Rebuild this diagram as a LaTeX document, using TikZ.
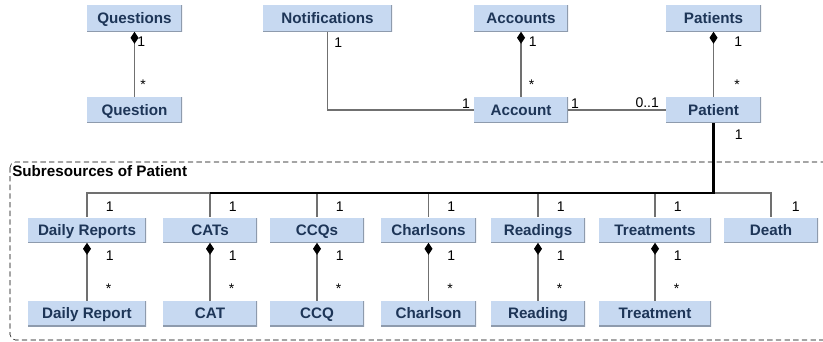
\documentclass[tikz,border=0pt]{standalone}
\usepackage{fontspec}
\setmainfont{Liberation Sans}
\usetikzlibrary{arrows.meta}
\usetikzlibrary{positioning}

\definecolor{boxfill}{HTML}{C7D9F1}
\definecolor{boxedge}{HTML}{8E9BAD}
\definecolor{boxtext}{HTML}{1D3557}
\definecolor{linkgray}{HTML}{707070}
\newcommand{\px}{0.75pt}

\tikzset{
  res/.style={fill=boxfill, text=boxtext, font=\bfseries\fontsize{11.4}{13}\selectfont,
    minimum height=26*\px, inner sep=0pt, text height=8.2pt, text depth=0pt,
    path picture={\draw[boxedge, line width=1.4pt]
      (path picture bounding box.south west) -- (path picture bounding box.south east)
      -- (path picture bounding box.north east);}},
  link/.style={draw=linkgray, line width=0.8pt},
  comp/.style={link, {Diamond[length=9pt,width=6pt,black]}-},
  busline/.style={draw=black, line width=1.6pt},
  mult/.style={font=\fontsize{10.5}{12}\selectfont, inner sep=1pt, anchor=west},
}

\begin{document}
\begin{tikzpicture}[x=\px, y=-\px]
    \useasboundingbox (0,0) rectangle (823,342);
    \clip (0,0) rectangle (823,342);

    % subresource frame
    \draw[dash pattern=on 4pt off 2.5pt, rounded corners=4pt] (10,162) rectangle (840,340);
    \node[anchor=north west, inner sep=0pt, font=\bfseries\fontsize{11.4}{13}\selectfont] (sublabel) at (12,165) {Subresources of Patient};

    % top level
    \node[res, minimum width=95*\px] (questions) at (134.5,18.5) {Questions};
    \node[res, minimum width=95*\px] (question) at (134.5,110) {Question};
    \node[res, minimum width=129*\px] (notifications) at (327.5,18.5) {Notifications};
    \node[res, minimum width=94*\px] (accounts) at (521,18.5) {Accounts};
    \node[res, minimum width=94*\px] (account) at (521,110) {Account};
    \node[res, minimum width=95*\px] (patients) at (713.5,18.5) {Patients};
    \node[res, minimum width=95*\px] (patient) at (713.5,110) {Patient};

    \draw[comp] (questions.south) -- node[mult, pos=0.15, xshift=1*\px] {1} node[mult, pos=0.82, xshift=4*\px] {*} (question.north);
    \draw[comp] (accounts.south) -- node[mult, pos=0.15, xshift=6*\px] {1} node[mult, pos=0.82, xshift=6*\px] {*} (account.north);
    \draw[comp] (patients.south) -- node[mult, pos=0.15, xshift=19*\px] {1} node[mult, pos=0.82, xshift=19*\px] {*} (patient.north);
    \draw[link] (notifications.south) |- node[mult, pos=0.07, xshift=5*\px] {1} node[mult, pos=1, anchor=south east, xshift=-2*\px] {1} (account.west);
    \draw[link] (account.east) -- node[mult, pos=0, anchor=south west, xshift=1*\px] {1} node[mult, pos=1, anchor=south east, xshift=-5*\px] {0..1} (patient.west);

    % subresources
    \coordinate (bus) at (713.5,193);
    \foreach \name/\sub/\txt/\subtxt/\cx/\w in {dailyreports/dailyreport/Daily Reports/Daily Report/87/118,
        cats/cat/CATs/CAT/210/94, ccqs/ccq/CCQs/CCQ/317/94, charlsons/charlson/Charlsons/Charlson/428.5/95,
        readings/reading/Readings/Reading/538/94, treatments/treatment/Treatments/Treatment/655/112} {
      \node[res, minimum width=\w*\px, minimum height=25*\px] (\name) at (\cx,230) {\txt};
      \node[res, minimum width=\w*\px, minimum height=25*\px] (\sub) at (\cx,313.5) {\subtxt};
      \draw[link] (bus) -| node[mult, pos=0.78, xshift=17*\px] {1} (\name.north);
      \draw[comp] (\name.south) -- node[mult, pos=0.22, xshift=17*\px] {1} node[mult, pos=0.8, xshift=17*\px] {*} (\sub.north);
    }
    \node[res, minimum width=94*\px, minimum height=25*\px] (death) at (771,230) {Death};
    \draw[link] (bus) -| node[mult, pos=0.78, xshift=19*\px] {1} (death.north);

    \draw[busline] (patient.south) -- node[mult, pos=0.17, xshift=19*\px] {1} (bus) -- (bus -| cats.north);
\end{tikzpicture}
\end{document}
